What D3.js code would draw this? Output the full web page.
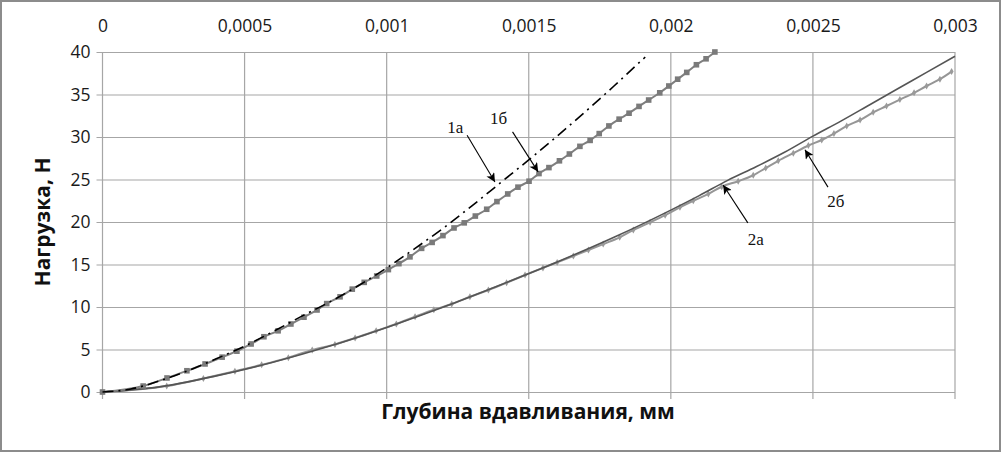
<!DOCTYPE html>
<html>
<head>
<meta charset="utf-8">
<script src="https://cdn.jsdelivr.net/npm/d3@7"></script>
<style>
  html, body { margin: 0; padding: 0; background: #fff; }
  svg { display: block; }
</style>
</head>
<body>
<svg id="chart" width="1002" height="453"></svg>
<script>
// ---------- data ----------
const xTicks = [0, 0.0005, 0.001, 0.0015, 0.002, 0.0025, 0.003];
const xTickLabels = ["0", "0,0005", "0,001", "0,0015", "0,002", "0,0025", "0,003"];
const yTicks = [0, 5, 10, 15, 20, 25, 30, 35, 40];
const yTickLabels = ["0", "5", "10", "15", "20", "25", "30", "35", "40"];
const xTitle = "Глубина вдавливания, мм";
const yTitle = "Нагрузка, Н";

// 1а — dash-dot, no markers
const depth1a = [0, 0.0001, 0.0002, 0.0003, 0.0004, 0.0005, 0.0006, 0.0007, 0.0008, 0.0009, 0.001, 0.0011, 0.0012, 0.0013, 0.0014, 0.0015, 0.0016, 0.0017, 0.0018, 0.0019, 0.00191];
const load1a  = [0, 0.35, 1.3, 2.5, 3.9, 5.4, 7.1, 8.9, 10.6, 12.5, 14.6, 16.9, 19.3, 21.9, 24.6, 27.3, 30.1, 33.0, 36.0, 39.1, 39.4];

// 1б — square markers
const depth1b = [0, 0.000143, 0.000227, 0.000297, 0.000361, 0.000421, 0.000473, 0.000523, 0.000568, 0.000618, 0.000663, 0.000709, 0.000755, 0.000789, 0.000836, 0.000879, 0.000921, 0.000965, 0.001006, 0.001043, 0.001082, 0.001123, 0.00116, 0.001198, 0.001237, 0.001273, 0.001312, 0.001352, 0.001388, 0.001426, 0.001462, 0.001501, 0.001536, 0.001571, 0.001608, 0.001643, 0.00168, 0.001716, 0.001748, 0.001782, 0.001818, 0.001853, 0.001888, 0.001922, 0.001961, 0.001993, 0.002024, 0.002056, 0.00209, 0.002124, 0.002155];
const load1b  = [0, 0.7, 1.65, 2.5, 3.3, 4.1, 4.8, 5.65, 6.5, 7.2, 8.0, 8.8, 9.65, 10.4, 11.2, 12.1, 12.9, 13.65, 14.4, 15.1, 15.9, 16.9, 17.6, 18.4, 19.3, 19.9, 20.7, 21.5, 22.4, 23.3, 24.1, 24.8, 25.7, 26.4, 27.2, 28.0, 28.9, 29.6, 30.4, 31.3, 32.1, 32.8, 33.6, 34.35, 35.2, 36.0, 36.8, 37.6, 38.5, 39.2, 40.0];

// 2а — solid dark line, no markers
const depth2a = [0, 0.0002, 0.0004, 0.0006, 0.0008, 0.001, 0.0012, 0.0014, 0.0016, 0.0018, 0.002, 0.0021, 0.0022, 0.0023, 0.0024, 0.0025, 0.0026, 0.0027, 0.0028, 0.0029, 0.003];
const load2a  = [0, 0.6, 1.9, 3.5, 5.4, 7.6, 10.0, 12.6, 15.3, 18.2, 21.4, 23.1, 24.9, 26.5, 28.2, 30.1, 31.9, 33.8, 35.7, 37.6, 39.5];

// 2б — small markers
const depth2b = [0, 0.000226, 0.000355, 0.000466, 0.00056, 0.000654, 0.000738, 0.000818, 0.000889, 0.000963, 0.001034, 0.0011, 0.001166, 0.001229, 0.001293, 0.001358, 0.001422, 0.001487, 0.00155, 0.0016, 0.001657, 0.00171, 0.001762, 0.00182, 0.001868, 0.001927, 0.00198, 0.002032, 0.002079, 0.002132, 0.002179, 0.002237, 0.00229, 0.002334, 0.002378, 0.002431, 0.002484, 0.002531, 0.002574, 0.002619, 0.002666, 0.002712, 0.002759, 0.002806, 0.002856, 0.0029, 0.002947, 0.002988];
const load2b  = [0, 0.7, 1.6, 2.45, 3.2, 4.04, 4.95, 5.6, 6.35, 7.2, 8.0, 8.86, 9.68, 10.35, 11.2, 12.0, 12.86, 13.76, 14.6, 15.25, 16.0, 16.7, 17.4, 18.2, 19.06, 19.96, 20.8, 21.73, 22.5, 23.3, 24.15, 24.8, 25.5, 26.35, 27.2, 28.1, 29.0, 29.65, 30.4, 31.3, 32.0, 32.9, 33.65, 34.4, 35.2, 36.0, 36.8, 37.7];

// annotation labels (data units): text anchor, arrow start, arrow end
const annoText = ["1а", "1б", "2а", "2б"];
const annoTextX = [0.001213, 0.001364, 0.002271, 0.00255];
const annoTextY = [30.5, 31.5, 17.3, 21.8];
const annoFromX = [0.001283, 0.001443, 0.002271, 0.002553];
const annoFromY = [30.2, 30.6, 19.9, 24.1];
const annoToX = [0.001381, 0.001533, 0.002184, 0.002472];
const annoToY = [24.7, 25.9, 24.35, 28.5];

// ---------- drawing ----------
(function () {
const svg = d3.select("#chart");
const W = 1002, H = 453;
const pL = 102.5, pR = 955, pT = 52, pB = 392;

const x = d3.scaleLinear().domain([0, 0.003]).range([pL, pR]);
const y = d3.scaleLinear().domain([0, 40]).range([pB, pT]);

svg.append("rect").attr("x", 1).attr("y", 1).attr("width", W - 3).attr("height", H - 3)
  .attr("fill", "#fff").attr("stroke", "#8c8c8c").attr("stroke-width", 2);

const defs = svg.append("defs");
defs.append("marker").attr("id", "ah").attr("viewBox", "0 0 10 10")
  .attr("refX", 10).attr("refY", 5).attr("markerWidth", 11).attr("markerHeight", 9)
  .attr("markerUnits", "userSpaceOnUse").attr("orient", "auto")
  .append("path").attr("d", "M0,0 L10,5 L0,10 L2.5,5 z").attr("fill", "#000");

const gridColor = "#a6a6a6";
const tickFont = "'Open Sans', sans-serif";
const yAxis = d3.axisLeft(y).tickValues(yTicks).tickSize(pR - pL + 6)
  .tickFormat((d, i) => yTickLabels[i]).tickPadding(6);
const gy = svg.append("g").attr("transform", `translate(${pR},0)`).call(yAxis);
gy.select(".domain").remove();
gy.selectAll(".tick line").attr("stroke", gridColor).attr("stroke-width", 1.2);
gy.selectAll(".tick text").attr("font-family", tickFont)
  .attr("font-size", 17.5).attr("fill", "#1a1a1a");

const xAxisTop = d3.axisTop(x).tickValues(xTicks).tickSize(0)
  .tickFormat((d, i) => xTickLabels[i]).tickPadding(20);
const gxTop = svg.append("g").attr("transform", `translate(0,${pT})`).call(xAxisTop);
gxTop.select(".domain").remove();
gxTop.selectAll(".tick text").attr("font-family", tickFont)
  .attr("font-size", 17.5).attr("fill", "#1a1a1a");

svg.append("g").selectAll("line").data(xTicks).join("line")
  .attr("x1", d => x(d)).attr("x2", d => x(d))
  .attr("y1", pT).attr("y2", pB + 7)
  .attr("stroke", gridColor).attr("stroke-width", 1.2);

svg.append("text").attr("x", 528).attr("y", 419)
  .attr("text-anchor", "middle").attr("font-family", tickFont)
  .attr("font-weight", "bold").attr("font-size", 21).attr("fill", "#111").text(xTitle);
svg.append("text").attr("transform", `translate(50,222) rotate(-90)`)
  .attr("text-anchor", "middle").attr("font-family", tickFont)
  .attr("font-weight", "bold").attr("font-size", 21).attr("fill", "#111").text(yTitle);

const line = d3.line().x(d => x(d[0])).y(d => y(d[1])).curve(d3.curveMonotoneX);
const pts = (xs, ys) => xs.map((v, i) => [v, ys[i]]);

const s2b = pts(depth2b, load2b);
const s2a = pts(depth2a, load2a);
const s1b = pts(depth1b, load1b);
const s1a = pts(depth1a, load1a);

svg.append("path").datum(s2b).attr("d", line).attr("fill", "none")
  .attr("stroke", "#969696").attr("stroke-width", 2);
svg.append("g").selectAll("path").data(s2b).join("path")
  .attr("d", d3.symbol(d3.symbolDiamond, 14))
  .attr("transform", d => `translate(${x(d[0])},${y(d[1])})`)
  .attr("fill", "#9a9a9a");

svg.append("path").datum(s2a).attr("d", line).attr("fill", "none")
  .attr("stroke", "#555").attr("stroke-width", 1.6);

svg.append("path").datum(s1b).attr("d", line).attr("fill", "none")
  .attr("stroke", "#7f7f7f").attr("stroke-width", 2);
svg.append("g").selectAll("rect").data(s1b).join("rect")
  .attr("x", d => x(d[0]) - 2.8).attr("y", d => y(d[1]) - 2.8)
  .attr("width", 5.6).attr("height", 5.6).attr("fill", "#7a7a7a");

svg.append("path").datum(s1a).attr("d", line).attr("fill", "none")
  .attr("stroke", "#000").attr("stroke-width", 1.6).attr("stroke-dasharray", "11,5,2,5");

annoText.forEach((t, i) => {
  svg.append("line")
    .attr("x1", x(annoFromX[i])).attr("y1", y(annoFromY[i]))
    .attr("x2", x(annoToX[i])).attr("y2", y(annoToY[i]))
    .attr("stroke", "#000").attr("stroke-width", 1.1).attr("marker-end", "url(#ah)");
  svg.append("text").attr("x", x(annoTextX[i])).attr("y", y(annoTextY[i]))
    .attr("font-family", "'Liberation Serif', 'Times New Roman', serif")
    .attr("font-size", 17).attr("fill", "#111").text(t);
});
})();
</script>
</body>
</html>
